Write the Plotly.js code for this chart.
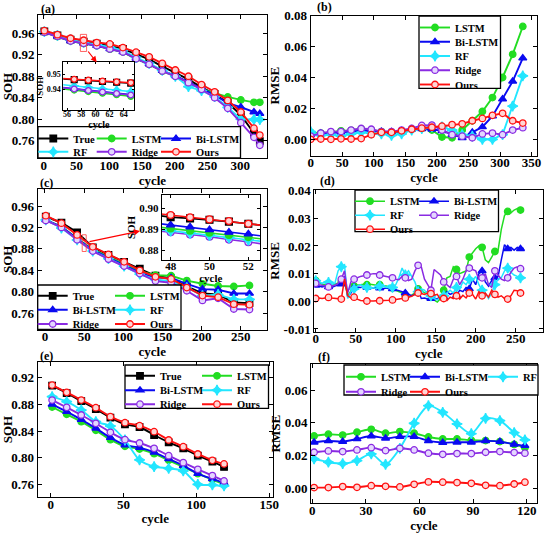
<!DOCTYPE html>
<html><head><meta charset="utf-8">
<script src="https://cdn.plot.ly/plotly-3.0.1.min.js"></script>
<style>html,body{margin:0;padding:0;background:#fff}#chart{width:550px;height:537px}</style>
</head><body><div id="chart"></div>
<script>
// ---------- data ----------
const seriesNames = ['True','LSTM','Bi-LSTM','RF','Ridge','Ours'];

// (a) SOH, battery 1
const cycleA = [1,21,41,61,81,101,121,141,161,181,201,221,241,261,281,301,321,330];
const aTrue   = [0.9637,0.9562,0.9481,0.9444,0.9407,0.9363,0.9308,0.9215,0.9115,0.8985,0.8861,0.8743,0.8594,0.8470,0.8308,0.8079,0.7738,0.7594];
const aLSTM   = [0.9620,0.9540,0.9455,0.9410,0.9368,0.9305,0.9250,0.9125,0.9020,0.8895,0.8800,0.8685,0.8560,0.8485,0.8415,0.8360,0.8315,0.8315];
const aBiLSTM = [0.9622,0.9545,0.9458,0.9415,0.9372,0.9310,0.9255,0.9132,0.9028,0.8905,0.8810,0.8690,0.8570,0.8450,0.8300,0.8225,0.8135,0.8105];
const aRF     = [0.9630,0.9560,0.9480,0.9435,0.9395,0.9340,0.9280,0.9150,0.9040,0.8910,0.8800,0.8606,0.8532,0.8420,0.8222,0.8000,0.7995,0.7995];
const aRidge  = [0.9620,0.9544,0.9457,0.9414,0.9370,0.9308,0.9252,0.9128,0.9022,0.8898,0.8799,0.8680,0.8556,0.8401,0.8203,0.7936,0.7663,0.7514];
const aOurs   = [0.9649,0.9575,0.9508,0.9471,0.9428,0.9403,0.9335,0.9249,0.9163,0.9040,0.8917,0.8800,0.8646,0.8511,0.8351,0.8135,0.7834,0.7705];
// (a) inset
const cycleAi  = [55,57,59,61,63,65,67];
const aiTrue   = [0.9470,0.9464,0.9458,0.9452,0.9447,0.9441,0.9435];
const aiLSTM   = [0.9405,0.9395,0.9385,0.9374,0.9364,0.9353,0.9343];
const aiBiLSTM = [0.9414,0.9404,0.9394,0.9384,0.9374,0.9364,0.9354];
const aiRF     = [0.9432,0.9422,0.9413,0.9403,0.9394,0.9384,0.9375];
const aiRidge  = [0.9412,0.9402,0.9392,0.9382,0.9372,0.9362,0.9352];
const aiOurs   = [0.9473,0.9467,0.9461,0.9455,0.9450,0.9444,0.9438];

// (b) RMSE, battery 1
const cycleB = [0,16,32,48,64,80,96,112,128,144,160,176,192,208,224,240,256,272,288,304,320,336];
const bLSTM   = [0.0045,0.0040,0.0045,0.0055,0.0058,0.0068,0.0060,0.0050,0.0045,0.0050,0.0065,0.0070,0.0060,0.0015,0.0010,0.0060,0.0120,0.0180,0.0270,0.0400,0.0550,0.0730];
const bBiLSTM = [0.0030,0.0038,0.0040,0.0045,0.0050,0.0055,0.0055,0.0050,0.0048,0.0055,0.0065,0.0068,0.0065,0.0055,0.0030,0.0010,0.0045,0.0080,0.0150,0.0260,0.0375,0.0525];
const bRF     = [0.0050,0.0025,0.0030,0.0020,0.0035,0.0045,0.0040,0.0035,0.0025,0.0035,0.0060,0.0070,0.0080,0.0080,0.0060,0.0030,0.0020,0.0000,0.0000,0.0030,0.0215,0.0410];
const bRidge  = [0.0020,0.0040,0.0050,0.0050,0.0060,0.0070,0.0065,0.0050,0.0050,0.0060,0.0070,0.0090,0.0092,0.0060,0.0030,0.0020,0.0010,0.0035,0.0040,0.0030,0.0060,0.0075];
const bOurs   = [0.0000,0.0002,0.0000,0.0003,0.0002,0.0005,0.0030,0.0045,0.0045,0.0055,0.0065,0.0072,0.0078,0.0085,0.0095,0.0100,0.0120,0.0135,0.0155,0.0168,0.0120,0.0105];

// (c) SOH, battery 2
const cycleC = [1,21,41,61,81,101,121,141,161,181,201,221,241,261];
const cTrue   = [0.9400,0.9290,0.9110,0.8830,0.8690,0.8560,0.8430,0.8300,0.8250,0.8100,0.7970,0.7950,0.7800,0.7790];
const cLSTM   = [0.9340,0.9210,0.9000,0.8790,0.8650,0.8510,0.8380,0.8310,0.8300,0.8210,0.8150,0.8110,0.8100,0.8120];
const cBiLSTM = [0.9340,0.9210,0.8990,0.8780,0.8640,0.8500,0.8360,0.8260,0.8260,0.8150,0.8050,0.8040,0.7970,0.7970];
const cRF     = [0.9340,0.9190,0.8970,0.8760,0.8620,0.8480,0.8330,0.8230,0.8200,0.8080,0.7930,0.7950,0.7860,0.7860];
const cRidge  = [0.9330,0.9200,0.8970,0.8760,0.8610,0.8480,0.8340,0.8200,0.8170,0.8020,0.7840,0.7880,0.7680,0.7670];
const cOurs   = [0.9420,0.9280,0.9060,0.8840,0.8700,0.8560,0.8400,0.8280,0.8240,0.8080,0.7930,0.7900,0.7770,0.7760];
// (c) inset
const cycleCi  = [47,48,49,50,51,52,53];
const ciTrue   = [0.8970,0.8958,0.8952,0.8945,0.8936,0.8926,0.8915];
const ciLSTM   = [0.8914,0.8903,0.8893,0.8883,0.8872,0.8862,0.8850];
const ciBiLSTM = [0.8931,0.8920,0.8910,0.8897,0.8885,0.8877,0.8864];
const ciRF     = [0.8903,0.8892,0.8881,0.8871,0.8860,0.8849,0.8838];
const ciRidge  = [0.8895,0.8885,0.8875,0.8864,0.8850,0.8837,0.8826];
const ciOurs   = [0.8978,0.8968,0.8957,0.8947,0.8939,0.8926,0.8915];

// (d) RMSE, battery 2
const cycleD = [0,4,8,12,16,20,24,28,32,36,40,44,48,52,56,60,64,68,72,76,80,84,88,92,96,100,104,108,112,116,120,124,128,132,136,140,144,148,152,156,160,164,168,172,176,180,184,188,192,196,200,204,208,212,216,220,224,228,232,236,240,244,248,252,256,260];
const dLSTM = [0.0075,0.0068,0.0062,0.0060,0.0058,0.0060,0.0062,0.0065,0.0070,0.0072,
 0.0020,0.0040,0.0055,0.0058,0.0060,0.0062,0.0060,0.0062,0.0060,0.0058,
 0.0060,0.0055,0.0055,0.0052,0.0048,0.0040,0.0035,0.0030,0.0020,0.0015,
 0.0022,0.0030,0.0045,0.0040,0.0030,0.0035,0.0025,0.0005,-0.0003,0.0010,
 0.0040,0.0085,0.0090,0.0125,0.0115,0.0100,0.0105,0.0110,0.0160,0.0175,
 0.0190,0.0200,0.0195,0.0150,0.0140,0.0160,0.0180,0.0185,0.0260,0.0310,
 0.0325,0.0320,0.0330,0.0335,0.0330,0.0330];
const dBiLSTM = [0.0058,0.0055,0.0052,0.0055,0.0052,0.0050,0.0055,0.0058,0.0062,0.0090,
 0.0015,0.0030,0.0050,0.0052,0.0050,0.0052,0.0050,0.0050,0.0048,0.0050,
 0.0048,0.0045,0.0048,0.0045,0.0045,0.0042,0.0040,0.0035,0.0030,0.0025,
 0.0020,0.0025,0.0040,0.0010,0.0012,0.0008,0.0010,0.0012,0.0008,0.0020,
 0.0015,0.0035,0.0025,0.0030,0.0020,0.0040,0.0035,0.0050,0.0045,0.0080,
 0.0060,0.0100,0.0110,0.0070,0.0055,0.0075,0.0085,0.0090,0.0150,0.0205,
 0.0190,0.0195,0.0185,0.0195,0.0190,0.0192];
const dRF = [0.0075,0.0070,0.0065,0.0072,0.0068,0.0060,0.0065,0.0110,0.0125,0.0132,
 0.0010,0.0035,0.0045,0.0055,0.0060,0.0055,0.0050,0.0045,0.0050,0.0045,
 0.0055,0.0060,0.0050,0.0058,0.0050,0.0060,0.0085,0.0120,0.0095,0.0110,
 0.0090,0.0070,0.0035,0.0045,0.0040,0.0025,0.0020,0.0010,0.0005,0.0015,
 0.0020,0.0030,0.0040,0.0030,0.0050,0.0045,0.0070,0.0060,0.0080,0.0075,
 0.0090,0.0060,0.0040,0.0030,0.0010,0.0030,0.0060,0.0080,0.0085,0.0110,
 0.0120,0.0105,0.0095,0.0090,0.0085,0.0082];
const dRidge = [0.0065,0.0060,0.0058,0.0055,0.0052,0.0055,0.0058,0.0065,0.0080,0.0110,
 0.0030,0.0070,0.0080,0.0085,0.0090,0.0092,0.0095,0.0098,0.0100,0.0100,
 0.0095,0.0092,0.0090,0.0088,0.0085,0.0080,0.0078,0.0090,0.0085,0.0075,
 0.0080,0.0110,0.0130,0.0125,0.0080,0.0060,0.0040,0.0115,0.0105,0.0095,
 0.0070,0.0060,0.0050,0.0080,0.0090,0.0060,0.0080,0.0110,0.0120,0.0115,
 0.0110,0.0080,0.0085,0.0100,0.0060,0.0050,0.0110,0.0095,0.0080,0.0075,
 0.0085,0.0105,0.0120,0.0125,0.0118,0.0115];
const dOurs = [0.0010,0.0012,0.0010,0.0012,0.0014,0.0012,0.0010,0.0008,0.0008,0.0080,
 0.0020,0.0012,0.0015,0.0008,0.0003,0.0002,0.0001,0.0002,0.0001,0.0002,
 0.0002,0.0003,0.0002,0.0004,0.0005,0.0006,0.0008,0.0010,0.0012,0.0015,
 0.0018,0.0025,0.0030,0.0028,0.0025,0.0030,0.0028,0.0022,0.0025,0.0005,
 0.0010,0.0003,0.0015,0.0010,0.0020,0.0008,0.0022,0.0012,0.0030,0.0025,
 0.0008,0.0035,0.0020,0.0030,0.0015,0.0040,0.0025,0.0015,0.0020,0.0010,
 0.0008,0.0020,0.0040,0.0038,0.0030,0.0025];

// (e) SOH, battery 3
const cycleE = [1,11,21,31,41,51,61,71,81,91,101,111,119];
const eTrue   = [0.9080,0.8970,0.8850,0.8730,0.8600,0.8500,0.8460,0.8340,0.8230,0.8140,0.8030,0.7940,0.7860];
const eLSTM   = [0.8760,0.8650,0.8540,0.8410,0.8270,0.8170,0.8130,0.8060,0.7960,0.7860,0.7760,0.7670,0.7600];
const eBiLSTM = [0.8800,0.8690,0.8570,0.8440,0.8300,0.8190,0.8150,0.8080,0.7980,0.7880,0.7760,0.7680,0.7620];
const eRF     = [0.8915,0.8840,0.8715,0.8540,0.8475,0.8265,0.7965,0.7865,0.7840,0.7800,0.7600,0.7590,0.7575];
const eRidge  = [0.8865,0.8755,0.8640,0.8515,0.8380,0.8270,0.8220,0.8140,0.8030,0.7925,0.7825,0.7730,0.7650];
const eOurs   = [0.9090,0.8980,0.8865,0.8750,0.8615,0.8525,0.8480,0.8390,0.8265,0.8165,0.8055,0.7960,0.7905];

// (f) RMSE, battery 3
const cycleF = [1,9,17,25,33,41,49,57,65,73,81,89,97,105,113,119];
const fLSTM   = [0.0319,0.0330,0.0325,0.0342,0.0360,0.0336,0.0346,0.0336,0.0313,0.0301,0.0301,0.0293,0.0291,0.0285,0.0268,0.0248];
const fBiLSTM = [0.0281,0.0289,0.0285,0.0301,0.0319,0.0305,0.0315,0.0315,0.0289,0.0279,0.0281,0.0281,0.0289,0.0285,0.0268,0.0260];
const fRF     = [0.0179,0.0160,0.0150,0.0169,0.0210,0.0146,0.0244,0.0397,0.0504,0.0464,0.0393,0.0334,0.0427,0.0413,0.0340,0.0295];
const fRidge  = [0.0220,0.0228,0.0224,0.0234,0.0248,0.0230,0.0244,0.0234,0.0214,0.0207,0.0212,0.0212,0.0220,0.0224,0.0218,0.0214];
const fOurs   = [0.0004,0.0004,0.0010,0.0006,0.0016,0.0012,0.0008,0.0024,0.0039,0.0037,0.0035,0.0030,0.0018,0.0016,0.0026,0.0037];

// tick labels
const socTicks  = [0.76,0.80,0.84,0.88,0.92,0.96];
const socTicksE = [0.76,0.80,0.84,0.88,0.92];
const rmseTicksB = [0,0.02,0.04,0.06,0.08];
const rmseTicksD = [-0.01,0,0.01,0.02,0.03,0.04];
const rmseTextD  = ['-0.01','0.00','0.01','0.02','0.03','0.04'];
const rmseTicksF = [0,0.02,0.04,0.06];

// ---------- styling ----------
const W = 550, H = 537;
const FONT = 'Liberation Serif, Times New Roman, serif';
const styles = {
  'True':    {color:'#000000', symbol:'square',       fill:'#000000', size:6.5},
  'LSTM':    {color:'#22dd22', symbol:'circle',       fill:'#22dd22', size:6.5},
  'Bi-LSTM': {color:'#0a0af0', symbol:'triangle-up',  fill:'#0a0af0', size:7},
  'RF':      {color:'#22e6ff', symbol:'star-diamond', fill:'#22e6ff', size:7.5},
  'Ridge':   {color:'#8a2be2', symbol:'circle',       fill:'#e4d6ff', size:6.5},
  'Ours':    {color:'#ff1010', symbol:'circle',       fill:'#ffd4d4', size:6.5}
};
const fx = p => p / W, fy = p => 1 - p / H;

const traces = [];
const layout = {
  width: W, height: H, margin:{l:0,r:0,t:0,b:0},
  paper_bgcolor:'#fff', plot_bgcolor:'#fff',
  font:{family:FONT, size:13, color:'#000', weight:'bold'},
  shapes:[], annotations:[]
};
const legendBase = {bgcolor:'rgba(0,0,0,0)', borderwidth:0, orientation:'h',
  font:{family:FONT, size:10.5, color:'#000', weight:'bold'},
  itemwidth:30, tracegroupgap:0, xanchor:'left', yanchor:'top'};
let legendCount = 0;

function addPanel(p) {
  const legendOf = {}, widthOf = {};
  (p.rows || []).forEach(r => {
    legendCount++;
    const id = legendCount === 1 ? 'legend' : 'legend' + legendCount;
    layout[id] = Object.assign({}, legendBase, {x: fx(r.x - 5), y: fy(r.y - 11)});
    r.names.forEach((n, k) => {
      legendOf[n] = id;
      if (r.widths && k < r.widths.length) widthOf[n] = r.widths[k];
    });
  });
  p.order.forEach(name => {
    const st = styles[name];
    const sel = p.xs.map((x, i) => i).filter(i => p.isMarker(i, p.xs[i]));
    const t = {
      type:'scatter', mode:'lines+markers', name:name,
      x:p.xs, y:p.data[name], xaxis:p.xaxis, yaxis:p.yaxis,
      line:{color:st.color, width:p.lw || 1.9, shape:p.spline ? 'spline' : 'linear', smoothing:0.8},
      marker:{symbol:st.symbol, size:st.size * (p.msk || 1), color:st.fill, line:{color:st.color, width:1.3}},
      selectedpoints: sel, selected:{marker:{opacity:1}}, unselected:{marker:{opacity:0}},
      showlegend: !!legendOf[name], hoverinfo:'skip'
    };
    if (legendOf[name]) t.legend = legendOf[name];
    if (widthOf[name] !== undefined) t.legendwidth = widthOf[name];
    traces.push(t);
  });
}
const all = () => true;

addPanel({xs:cycleA, xaxis:'x', yaxis:'y', isMarker:all,
  data:{'True':aTrue,'LSTM':aLSTM,'Bi-LSTM':aBiLSTM,'RF':aRF,'Ridge':aRidge,'Ours':aOurs},
  order:seriesNames,
  rows:[{names:['True','LSTM','Bi-LSTM'], x:38.3, y:135, widths:[13.4,19.3]},
        {names:['RF','Ridge','Ours'], x:38.3, y:148.3, widths:[13.4,19.3]}]});
addPanel({xs:cycleB, xaxis:'x2', yaxis:'y2', isMarker:all,
  data:{'LSTM':bLSTM,'Bi-LSTM':bBiLSTM,'RF':bRF,'Ridge':bRidge,'Ours':bOurs},
  order:['LSTM','Bi-LSTM','RF','Ridge','Ours'],
  rows:[{names:['LSTM'], x:420, y:24},{names:['Bi-LSTM'], x:420, y:38.3},{names:['RF'], x:420, y:52.5},
        {names:['Ridge'], x:420, y:66.7},{names:['Ours'], x:420, y:81}]});
addPanel({xs:cycleC, xaxis:'x3', yaxis:'y3', isMarker:all,
  data:{'True':cTrue,'LSTM':cLSTM,'Bi-LSTM':cBiLSTM,'RF':cRF,'Ridge':cRidge,'Ours':cOurs},
  order:seriesNames,
  rows:[{names:['True','LSTM'], x:37.7, y:292.3, widths:[32.3]},
        {names:['Bi-LSTM','RF'], x:37.7, y:306.3, widths:[32.3]},
        {names:['Ridge','Ours'], x:37.7, y:320.5, widths:[32.3]}]});
addPanel({xs:cycleD, xaxis:'x4', yaxis:'y4', isMarker:(i) => i % 4 === 0, lw:1.5,
  data:{'LSTM':dLSTM,'Bi-LSTM':dBiLSTM,'RF':dRF,'Ridge':dRidge,'Ours':dOurs},
  order:['LSTM','Bi-LSTM','RF','Ridge','Ours'],
  rows:[{names:['LSTM','Bi-LSTM'], x:355, y:197.7, widths:[19]},
        {names:['RF','Ridge'], x:355, y:211.7, widths:[19]},
        {names:['Ours'], x:355, y:225.7}]});
addPanel({xs:cycleE, xaxis:'x5', yaxis:'y5', isMarker:all, spline:true,
  data:{'True':eTrue,'LSTM':eLSTM,'Bi-LSTM':eBiLSTM,'RF':eRF,'Ridge':eRidge,'Ours':eOurs},
  order:seriesNames,
  rows:[{names:['True','LSTM'], x:125, y:372.3, widths:[32]},
        {names:['Bi-LSTM','RF'], x:125, y:386.7, widths:[32]},
        {names:['Ridge','Ours'], x:125, y:400.7, widths:[32]}]});
addPanel({xs:cycleF, xaxis:'x6', yaxis:'y6', isMarker:all, spline:true,
  data:{'LSTM':fLSTM,'Bi-LSTM':fBiLSTM,'RF':fRF,'Ridge':fRidge,'Ours':fOurs},
  order:['LSTM','Bi-LSTM','RF','Ridge','Ours'],
  rows:[{names:['LSTM','Bi-LSTM','RF'], x:346, y:373.3, widths:[19,33]},
        {names:['Ridge','Ours'], x:346, y:388.3, widths:[19]}]});
// insets
addPanel({xs:cycleAi, xaxis:'x7', yaxis:'y7', msk:0.9, lw:1.6,
  isMarker:(i, x) => x >= 56 && x <= 65,
  data:{'True':aiTrue,'LSTM':aiLSTM,'Bi-LSTM':aiBiLSTM,'RF':aiRF,'Ridge':aiRidge,'Ours':aiOurs},
  order:['LSTM','Bi-LSTM','RF','Ridge','True','Ours']});
addPanel({xs:cycleCi, xaxis:'x8', yaxis:'y8', msk:1.05, lw:1.6,
  isMarker:(i, x) => x >= 48 && x <= 52,
  data:{'True':ciTrue,'LSTM':ciLSTM,'Bi-LSTM':ciBiLSTM,'RF':ciRF,'Ridge':ciRidge,'Ours':ciOurs},
  order:['Ridge','RF','LSTM','Bi-LSTM','True','Ours']});

// ---------- axes ----------
function ax(o) {
  return Object.assign({showline:true, linecolor:'#000', linewidth:1, mirror:'ticks',
    ticks:'inside', ticklen:4, tickwidth:1, tickcolor:'#000', showgrid:false, zeroline:false,
    tickmode:'array', fixedrange:true,
    tickfont:{family:FONT, size:o.tfs || 13, color:'#000', weight:'bold'}}, o.a);
}
function ttl(text, size, standoff) {
  return {text:text, standoff:standoff, font:{family:FONT, size:size, color:'#000', weight:'bold'}};
}
const XS = -5;
layout.xaxis  = ax({a:{domain:[fx(38), fx(266.7)], range:[-8.7,340.5], anchor:'y', ticklabelstandoff:XS, tickvals:[0,50,100,150,200,250,300], title:ttl('cycle',13,0)}});
layout.yaxis  = ax({a:{domain:[fy(158), fy(15)], range:[0.7278,0.9941], anchor:'x', tickvals:socTicks, tickformat:'.2f', title:ttl('SOH',13,4)}});
layout.xaxis2 = ax({a:{domain:[fx(310.7), fx(537.3)], range:[0,359], anchor:'y2', ticklabelstandoff:XS, tickvals:[0,50,100,150,200,250,300,350], title:ttl('cycle',13,0)}});
layout.yaxis2 = ax({a:{domain:[fy(155.7), fy(15.5)], range:[-0.0106,0.0801], anchor:'x2', tickvals:rmseTicksB, tickformat:'.2f', title:ttl('RMSE',13,1)}});
layout.xaxis3 = ax({a:{domain:[fx(37.7), fx(266.7)], range:[-9.3,283], anchor:'y3', ticklabelstandoff:XS, tickvals:[0,50,100,150,200,250], title:ttl('cycle',13,2)}});
layout.yaxis3 = ax({a:{domain:[fy(329.5), fy(189)], range:[0.7298,0.9917], anchor:'x3', tickvals:socTicks, tickformat:'.2f', title:ttl('SOH',13,4)}});
layout.xaxis4 = ax({a:{domain:[fx(314.3), fx(543.3)], range:[-1.75,284.5], anchor:'y4', ticklabelstandoff:XS, tickvals:[0,50,100,150,200,250], title:ttl('cycle',13,0)}});
layout.yaxis4 = ax({a:{domain:[fy(331.7), fy(190)], range:[-0.011,0.04025], anchor:'x4', tickvals:rmseTicksD, ticktext:rmseTextD, title:ttl('RMSE',13,1)}});
layout.xaxis5 = ax({a:{domain:[fx(37.7), fx(272.7)], range:[-8.9,152.4], anchor:'y5', ticklabelstandoff:XS, tickvals:[0,50,100,150], title:ttl('cycle',13,3)}});
layout.yaxis5 = ax({a:{domain:[fy(497), fy(362)], range:[0.7409,0.9436], anchor:'x5', tickvals:socTicksE, tickformat:'.2f', title:ttl('SOH',13,4)}});
layout.xaxis6 = ax({a:{domain:[fx(311), fx(536.7)], range:[-0.73,125.6], anchor:'y6', ticklabelstandoff:XS, tickvals:[0,30,60,90,120], title:ttl('cycle',13,1)}});
layout.yaxis6 = ax({a:{domain:[fy(503), fy(364.3)], range:[-0.009,0.0757], anchor:'x6', tickvals:rmseTicksF, tickformat:'.2f', title:ttl('RMSE',13,1)}});
layout.xaxis7 = ax({tfs:8, a:{domain:[fx(63.3), fx(134.3)], range:[55.46,65.5], anchor:'y7', ticklen:2, ticklabelstandoff:-4, tickvals:[56,58,60,62,64], title:ttl('cycle',10,0)}});
layout.yaxis7 = ax({tfs:8, a:{domain:[fy(110), fy(62.3)], range:[0.9262,0.958], anchor:'x7', ticklen:2, tickvals:[0.94,0.95], tickformat:'.2f', title:ttl('SOH',9,1)}});
layout.xaxis8 = ax({tfs:11, a:{domain:[fx(161.7), fx(260)], range:[47.54,52.6], anchor:'y8', ticklen:3, ticklabelstandoff:-4, tickvals:[48,50,52], title:ttl('cycle',11,0)}});
layout.yaxis8 = ax({tfs:11, a:{domain:[fy(260), fy(195)], range:[0.8752,0.9064], anchor:'x8', ticklen:3, tickvals:[0.88,0.89,0.90], tickformat:'.2f', title:ttl('SOH',11,1)}});

// ---------- legend boxes ----------
[[38,240.5,126.7,158],[419,500.5,16,88.3],[37.7,181,285,329.5],[355,498.5,190,231.7],[125,268.5,365,408.3],[344,538,365,395]]
.forEach(b => layout.shapes.push({type:'rect', xref:'paper', yref:'paper', x0:fx(b[0]), x1:fx(b[1]), y0:fy(b[3]), y1:fy(b[2]),
  line:{color:'#000', width:1.3}, fillcolor:'#fff', layer:'above'}));
// zoom region markers
layout.shapes.push({type:'rect', xref:'x', yref:'y', x0:56, x1:65.5, y0:0.9262, y1:0.958, line:{color:'rgba(255,60,60,0.8)', width:1}, layer:'above'});
layout.shapes.push({type:'rect', xref:'x3', yref:'y3', x0:47.5, x1:52.6, y0:0.8752, y1:0.9064, line:{color:'rgba(255,60,60,0.8)', width:1}, layer:'above'});

// ---------- annotations ----------
[['(a)',48,9],['(b)',324,7],['(c)',46.5,182.5],['(d)',327.5,181],['(e)',46.5,356],['(f)',324,357]]
.forEach(a => layout.annotations.push({text:a[0], xref:'paper', yref:'paper', x:fx(a[1]), y:fy(a[2]),
  xanchor:'center', yanchor:'middle', showarrow:false, font:{family:FONT, size:12, color:'#000', weight:'bold'}}));
layout.annotations.push({text:'', xref:'paper', yref:'paper', x:fx(96.7), y:fy(62.3), ax:-9.7, ay:-12.3,
  showarrow:true, arrowhead:2, arrowsize:1, arrowwidth:1.2, arrowcolor:'#ff0000', standoff:0});
layout.annotations.push({text:'', xref:'paper', yref:'paper', x:fx(140), y:fy(231), ax:-52, ay:11,
  showarrow:true, arrowhead:2, arrowsize:1, arrowwidth:1.2, arrowcolor:'#ff0000', standoff:0});

Plotly.newPlot('chart', traces, layout, {staticPlot:true, displayModeBar:false});
</script>
</body></html>
